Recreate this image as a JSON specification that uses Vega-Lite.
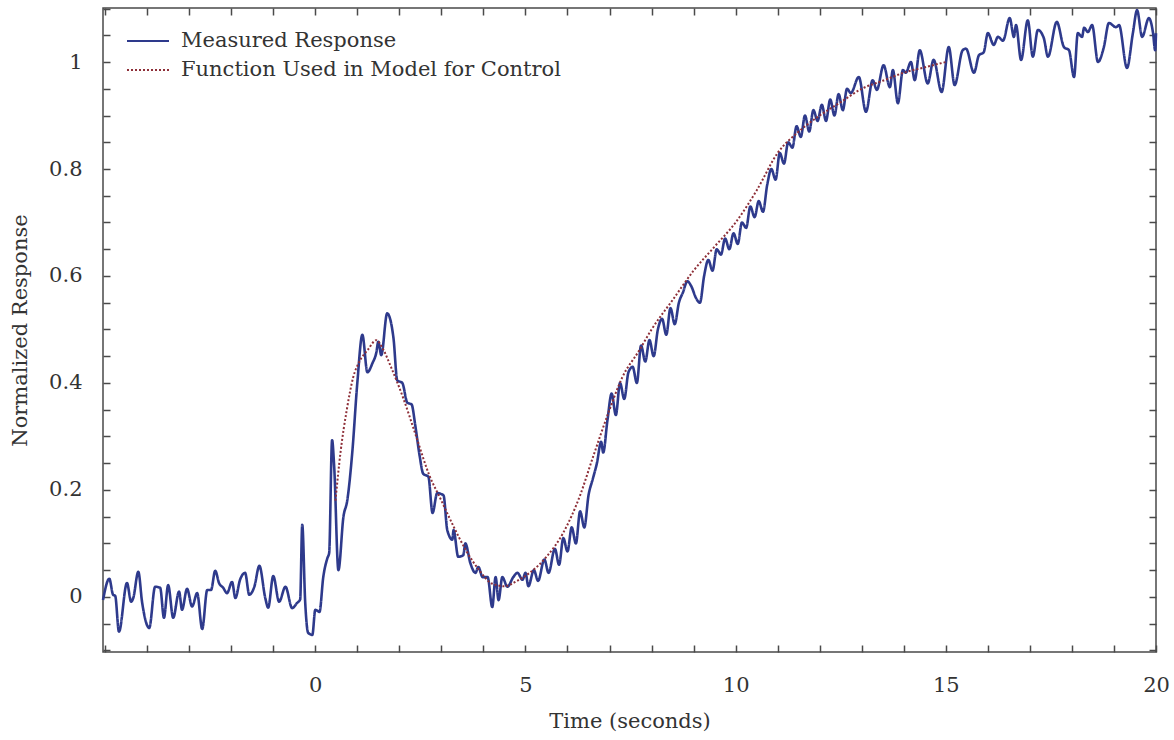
{
  "$schema": "https://vega.github.io/schema/vega-lite/v6.json",
  "width": 1053,
  "height": 644,
  "autosize": "none",
  "padding": {"left": 103, "top": 8, "right": 18, "bottom": 88},
  "background": "white",
  "config": {
    "font": "DejaVu Serif",
    "view": {"stroke": "#4a4a4a", "strokeWidth": 1.5},
    "axis": {
      "grid": false,
      "domain": false,
      "offset": -7,
      "tickColor": "#4a4a4a",
      "tickWidth": 1.5,
      "tickSize": 7,
      "labelFont": "DejaVu Serif",
      "labelFontSize": 21,
      "labelColor": "#333333",
      "titleFont": "DejaVu Serif",
      "titleFontSize": 21,
      "titleFontWeight": "normal",
      "titleColor": "#333333"
    }
  },
  "datasets": {
    "measured": [
      {"t": -5.05, "v": -0.006, "series": "Measured Response"},
      {"t": -4.90, "v": 0.034, "series": "Measured Response"},
      {"t": -4.81, "v": 0.004, "series": "Measured Response"},
      {"t": -4.76, "v": 0.002, "series": "Measured Response"},
      {"t": -4.67, "v": -0.065, "series": "Measured Response"},
      {"t": -4.48, "v": 0.026, "series": "Measured Response"},
      {"t": -4.38, "v": -0.009, "series": "Measured Response"},
      {"t": -4.33, "v": -0.002, "series": "Measured Response"},
      {"t": -4.21, "v": 0.047, "series": "Measured Response"},
      {"t": -4.12, "v": -0.01, "series": "Measured Response"},
      {"t": -3.95, "v": -0.058, "series": "Measured Response"},
      {"t": -3.81, "v": 0.019, "series": "Measured Response"},
      {"t": -3.69, "v": 0.017, "series": "Measured Response"},
      {"t": -3.60, "v": -0.039, "series": "Measured Response"},
      {"t": -3.50, "v": 0.022, "series": "Measured Response"},
      {"t": -3.38, "v": -0.039, "series": "Measured Response"},
      {"t": -3.24, "v": 0.01, "series": "Measured Response"},
      {"t": -3.17, "v": -0.024, "series": "Measured Response"},
      {"t": -3.05, "v": 0.015, "series": "Measured Response"},
      {"t": -2.93, "v": -0.018, "series": "Measured Response"},
      {"t": -2.81, "v": 0.007, "series": "Measured Response"},
      {"t": -2.69, "v": -0.06, "series": "Measured Response"},
      {"t": -2.57, "v": 0.013, "series": "Measured Response"},
      {"t": -2.48, "v": 0.013, "series": "Measured Response"},
      {"t": -2.38, "v": 0.049, "series": "Measured Response"},
      {"t": -2.29, "v": 0.026, "series": "Measured Response"},
      {"t": -2.19, "v": 0.017, "series": "Measured Response"},
      {"t": -2.10, "v": 0.007, "series": "Measured Response"},
      {"t": -1.98, "v": 0.028, "series": "Measured Response"},
      {"t": -1.90, "v": -0.002, "series": "Measured Response"},
      {"t": -1.79, "v": 0.032, "series": "Measured Response"},
      {"t": -1.67, "v": 0.045, "series": "Measured Response"},
      {"t": -1.57, "v": 0.004, "series": "Measured Response"},
      {"t": -1.45, "v": 0.019, "series": "Measured Response"},
      {"t": -1.33, "v": 0.058, "series": "Measured Response"},
      {"t": -1.19, "v": -0.002, "series": "Measured Response"},
      {"t": -1.12, "v": -0.02, "series": "Measured Response"},
      {"t": -1.00, "v": 0.039, "series": "Measured Response"},
      {"t": -0.86, "v": -0.009, "series": "Measured Response"},
      {"t": -0.71, "v": 0.019, "series": "Measured Response"},
      {"t": -0.55, "v": -0.021, "series": "Measured Response"},
      {"t": -0.43, "v": -0.011, "series": "Measured Response"},
      {"t": -0.36, "v": -0.005, "series": "Measured Response"},
      {"t": -0.31, "v": 0.135, "series": "Measured Response"},
      {"t": -0.24, "v": -0.01, "series": "Measured Response"},
      {"t": -0.17, "v": -0.067, "series": "Measured Response"},
      {"t": -0.07, "v": -0.071, "series": "Measured Response"},
      {"t": 0.0, "v": -0.024, "series": "Measured Response"},
      {"t": 0.10, "v": -0.028, "series": "Measured Response"},
      {"t": 0.19, "v": 0.037, "series": "Measured Response"},
      {"t": 0.29, "v": 0.073, "series": "Measured Response"},
      {"t": 0.33, "v": 0.082, "series": "Measured Response"},
      {"t": 0.40, "v": 0.293, "series": "Measured Response"},
      {"t": 0.45, "v": 0.243, "series": "Measured Response"},
      {"t": 0.55, "v": 0.05, "series": "Measured Response"},
      {"t": 0.67, "v": 0.15, "series": "Measured Response"},
      {"t": 0.76, "v": 0.18, "series": "Measured Response"},
      {"t": 0.88, "v": 0.27, "series": "Measured Response"},
      {"t": 1.0, "v": 0.40, "series": "Measured Response"},
      {"t": 1.12, "v": 0.49, "series": "Measured Response"},
      {"t": 1.24, "v": 0.42, "series": "Measured Response"},
      {"t": 1.36, "v": 0.437, "series": "Measured Response"},
      {"t": 1.45, "v": 0.456, "series": "Measured Response"},
      {"t": 1.50, "v": 0.477, "series": "Measured Response"},
      {"t": 1.57, "v": 0.452, "series": "Measured Response"},
      {"t": 1.71, "v": 0.53, "series": "Measured Response"},
      {"t": 1.86, "v": 0.484, "series": "Measured Response"},
      {"t": 1.95, "v": 0.405, "series": "Measured Response"},
      {"t": 2.07, "v": 0.40, "series": "Measured Response"},
      {"t": 2.19, "v": 0.363, "series": "Measured Response"},
      {"t": 2.29, "v": 0.36, "series": "Measured Response"},
      {"t": 2.38, "v": 0.32, "series": "Measured Response"},
      {"t": 2.48, "v": 0.265, "series": "Measured Response"},
      {"t": 2.57, "v": 0.23, "series": "Measured Response"},
      {"t": 2.69, "v": 0.225, "series": "Measured Response"},
      {"t": 2.79, "v": 0.157, "series": "Measured Response"},
      {"t": 2.90, "v": 0.194, "series": "Measured Response"},
      {"t": 3.05, "v": 0.19, "series": "Measured Response"},
      {"t": 3.14, "v": 0.125, "series": "Measured Response"},
      {"t": 3.26, "v": 0.107, "series": "Measured Response"},
      {"t": 3.29, "v": 0.125, "series": "Measured Response"},
      {"t": 3.40, "v": 0.075, "series": "Measured Response"},
      {"t": 3.52, "v": 0.078, "series": "Measured Response"},
      {"t": 3.57, "v": 0.10, "series": "Measured Response"},
      {"t": 3.69, "v": 0.063, "series": "Measured Response"},
      {"t": 3.81, "v": 0.045, "series": "Measured Response"},
      {"t": 3.88, "v": 0.056, "series": "Measured Response"},
      {"t": 3.98, "v": 0.037, "series": "Measured Response"},
      {"t": 4.10, "v": 0.037, "series": "Measured Response"},
      {"t": 4.21, "v": -0.019, "series": "Measured Response"},
      {"t": 4.29, "v": 0.037, "series": "Measured Response"},
      {"t": 4.36, "v": -0.006, "series": "Measured Response"},
      {"t": 4.45, "v": 0.037, "series": "Measured Response"},
      {"t": 4.57, "v": 0.019, "series": "Measured Response"},
      {"t": 4.71, "v": 0.037, "series": "Measured Response"},
      {"t": 4.81, "v": 0.045, "series": "Measured Response"},
      {"t": 4.93, "v": 0.032, "series": "Measured Response"},
      {"t": 5.0, "v": 0.045, "series": "Measured Response"},
      {"t": 5.07, "v": 0.02, "series": "Measured Response"},
      {"t": 5.2, "v": 0.05, "series": "Measured Response"},
      {"t": 5.3, "v": 0.03, "series": "Measured Response"},
      {"t": 5.45, "v": 0.07, "series": "Measured Response"},
      {"t": 5.55, "v": 0.045, "series": "Measured Response"},
      {"t": 5.7, "v": 0.09, "series": "Measured Response"},
      {"t": 5.8, "v": 0.06, "series": "Measured Response"},
      {"t": 5.9, "v": 0.11, "series": "Measured Response"},
      {"t": 6.0, "v": 0.085, "series": "Measured Response"},
      {"t": 6.1, "v": 0.13, "series": "Measured Response"},
      {"t": 6.2, "v": 0.10, "series": "Measured Response"},
      {"t": 6.3, "v": 0.16, "series": "Measured Response"},
      {"t": 6.4, "v": 0.13, "series": "Measured Response"},
      {"t": 6.5, "v": 0.19, "series": "Measured Response"},
      {"t": 6.6, "v": 0.22, "series": "Measured Response"},
      {"t": 6.7, "v": 0.25, "series": "Measured Response"},
      {"t": 6.8, "v": 0.29, "series": "Measured Response"},
      {"t": 6.85, "v": 0.27, "series": "Measured Response"},
      {"t": 6.95, "v": 0.33, "series": "Measured Response"},
      {"t": 7.05, "v": 0.38, "series": "Measured Response"},
      {"t": 7.15, "v": 0.34, "series": "Measured Response"},
      {"t": 7.25, "v": 0.40, "series": "Measured Response"},
      {"t": 7.35, "v": 0.37, "series": "Measured Response"},
      {"t": 7.45, "v": 0.42, "series": "Measured Response"},
      {"t": 7.55, "v": 0.43, "series": "Measured Response"},
      {"t": 7.65, "v": 0.40, "series": "Measured Response"},
      {"t": 7.75, "v": 0.47, "series": "Measured Response"},
      {"t": 7.85, "v": 0.44, "series": "Measured Response"},
      {"t": 7.95, "v": 0.48, "series": "Measured Response"},
      {"t": 8.05, "v": 0.45, "series": "Measured Response"},
      {"t": 8.15, "v": 0.50, "series": "Measured Response"},
      {"t": 8.25, "v": 0.52, "series": "Measured Response"},
      {"t": 8.35, "v": 0.49, "series": "Measured Response"},
      {"t": 8.45, "v": 0.54, "series": "Measured Response"},
      {"t": 8.55, "v": 0.51, "series": "Measured Response"},
      {"t": 8.65, "v": 0.55, "series": "Measured Response"},
      {"t": 8.75, "v": 0.57, "series": "Measured Response"},
      {"t": 8.85, "v": 0.59, "series": "Measured Response"},
      {"t": 8.95, "v": 0.58, "series": "Measured Response"},
      {"t": 9.05, "v": 0.56, "series": "Measured Response"},
      {"t": 9.15, "v": 0.55, "series": "Measured Response"},
      {"t": 9.25, "v": 0.60, "series": "Measured Response"},
      {"t": 9.35, "v": 0.63, "series": "Measured Response"},
      {"t": 9.45, "v": 0.61, "series": "Measured Response"},
      {"t": 9.55, "v": 0.65, "series": "Measured Response"},
      {"t": 9.65, "v": 0.64, "series": "Measured Response"},
      {"t": 9.75, "v": 0.67, "series": "Measured Response"},
      {"t": 9.85, "v": 0.65, "series": "Measured Response"},
      {"t": 9.95, "v": 0.68, "series": "Measured Response"},
      {"t": 10.05, "v": 0.66, "series": "Measured Response"},
      {"t": 10.15, "v": 0.70, "series": "Measured Response"},
      {"t": 10.25, "v": 0.69, "series": "Measured Response"},
      {"t": 10.35, "v": 0.73, "series": "Measured Response"},
      {"t": 10.45, "v": 0.71, "series": "Measured Response"},
      {"t": 10.55, "v": 0.74, "series": "Measured Response"},
      {"t": 10.65, "v": 0.72, "series": "Measured Response"},
      {"t": 10.75, "v": 0.77, "series": "Measured Response"},
      {"t": 10.85, "v": 0.80, "series": "Measured Response"},
      {"t": 10.95, "v": 0.78, "series": "Measured Response"},
      {"t": 11.05, "v": 0.83, "series": "Measured Response"},
      {"t": 11.15, "v": 0.81, "series": "Measured Response"},
      {"t": 11.25, "v": 0.85, "series": "Measured Response"},
      {"t": 11.35, "v": 0.84, "series": "Measured Response"},
      {"t": 11.45, "v": 0.88, "series": "Measured Response"},
      {"t": 11.55, "v": 0.86, "series": "Measured Response"},
      {"t": 11.65, "v": 0.90, "series": "Measured Response"},
      {"t": 11.75, "v": 0.87, "series": "Measured Response"},
      {"t": 11.85, "v": 0.91, "series": "Measured Response"},
      {"t": 11.95, "v": 0.89, "series": "Measured Response"},
      {"t": 12.05, "v": 0.92, "series": "Measured Response"},
      {"t": 12.15, "v": 0.89, "series": "Measured Response"},
      {"t": 12.25, "v": 0.93, "series": "Measured Response"},
      {"t": 12.35, "v": 0.90, "series": "Measured Response"},
      {"t": 12.45, "v": 0.94, "series": "Measured Response"},
      {"t": 12.55, "v": 0.91, "series": "Measured Response"},
      {"t": 12.65, "v": 0.95, "series": "Measured Response"},
      {"t": 12.74, "v": 0.942, "series": "Measured Response"},
      {"t": 12.93, "v": 0.972, "series": "Measured Response"},
      {"t": 13.10, "v": 0.907, "series": "Measured Response"},
      {"t": 13.26, "v": 0.966, "series": "Measured Response"},
      {"t": 13.36, "v": 0.948, "series": "Measured Response"},
      {"t": 13.52, "v": 0.994, "series": "Measured Response"},
      {"t": 13.67, "v": 0.953, "series": "Measured Response"},
      {"t": 13.74, "v": 0.985, "series": "Measured Response"},
      {"t": 13.86, "v": 0.923, "series": "Measured Response"},
      {"t": 13.98, "v": 0.985, "series": "Measured Response"},
      {"t": 14.05, "v": 0.98, "series": "Measured Response"},
      {"t": 14.17, "v": 1.0, "series": "Measured Response"},
      {"t": 14.26, "v": 0.966, "series": "Measured Response"},
      {"t": 14.38, "v": 1.022, "series": "Measured Response"},
      {"t": 14.57, "v": 0.96, "series": "Measured Response"},
      {"t": 14.71, "v": 1.004, "series": "Measured Response"},
      {"t": 14.90, "v": 0.944, "series": "Measured Response"},
      {"t": 15.07, "v": 1.028, "series": "Measured Response"},
      {"t": 15.21, "v": 0.957, "series": "Measured Response"},
      {"t": 15.40, "v": 1.022, "series": "Measured Response"},
      {"t": 15.48, "v": 1.025, "series": "Measured Response"},
      {"t": 15.67, "v": 0.98, "series": "Measured Response"},
      {"t": 15.79, "v": 1.013, "series": "Measured Response"},
      {"t": 15.90, "v": 1.018, "series": "Measured Response"},
      {"t": 16.0, "v": 1.054, "series": "Measured Response"},
      {"t": 16.14, "v": 1.032, "series": "Measured Response"},
      {"t": 16.24, "v": 1.047, "series": "Measured Response"},
      {"t": 16.36, "v": 1.04, "series": "Measured Response"},
      {"t": 16.52, "v": 1.082, "series": "Measured Response"},
      {"t": 16.62, "v": 1.047, "series": "Measured Response"},
      {"t": 16.67, "v": 1.069, "series": "Measured Response"},
      {"t": 16.79, "v": 1.004, "series": "Measured Response"},
      {"t": 16.95, "v": 1.078, "series": "Measured Response"},
      {"t": 17.07, "v": 1.01, "series": "Measured Response"},
      {"t": 17.19, "v": 1.06, "series": "Measured Response"},
      {"t": 17.33, "v": 1.045, "series": "Measured Response"},
      {"t": 17.43, "v": 1.01, "series": "Measured Response"},
      {"t": 17.64, "v": 1.075, "series": "Measured Response"},
      {"t": 17.81, "v": 1.028, "series": "Measured Response"},
      {"t": 17.93, "v": 1.022, "series": "Measured Response"},
      {"t": 18.05, "v": 0.972, "series": "Measured Response"},
      {"t": 18.14, "v": 1.054, "series": "Measured Response"},
      {"t": 18.24, "v": 1.047, "series": "Measured Response"},
      {"t": 18.29, "v": 1.064, "series": "Measured Response"},
      {"t": 18.38, "v": 1.056, "series": "Measured Response"},
      {"t": 18.48, "v": 1.069, "series": "Measured Response"},
      {"t": 18.62, "v": 1.0, "series": "Measured Response"},
      {"t": 18.76, "v": 1.028, "series": "Measured Response"},
      {"t": 18.88, "v": 1.073, "series": "Measured Response"},
      {"t": 19.05, "v": 1.065, "series": "Measured Response"},
      {"t": 19.12, "v": 1.069, "series": "Measured Response"},
      {"t": 19.31, "v": 0.989, "series": "Measured Response"},
      {"t": 19.45, "v": 1.054, "series": "Measured Response"},
      {"t": 19.55, "v": 1.097, "series": "Measured Response"},
      {"t": 19.67, "v": 1.047, "series": "Measured Response"},
      {"t": 19.83, "v": 1.082, "series": "Measured Response"},
      {"t": 19.93, "v": 1.054, "series": "Measured Response"},
      {"t": 19.98, "v": 1.022, "series": "Measured Response"},
      {"t": 20.0, "v": 1.054, "series": "Measured Response"}
    ],
    "model": [
      {"t": 0.48, "v": 0.18, "series": "Function Used in Model for Control"},
      {"t": 0.6, "v": 0.27, "series": "Function Used in Model for Control"},
      {"t": 0.75, "v": 0.35, "series": "Function Used in Model for Control"},
      {"t": 0.9, "v": 0.41, "series": "Function Used in Model for Control"},
      {"t": 1.05, "v": 0.44, "series": "Function Used in Model for Control"},
      {"t": 1.25, "v": 0.462, "series": "Function Used in Model for Control"},
      {"t": 1.45, "v": 0.48, "series": "Function Used in Model for Control"},
      {"t": 1.6, "v": 0.465, "series": "Function Used in Model for Control"},
      {"t": 1.8, "v": 0.43, "series": "Function Used in Model for Control"},
      {"t": 2.1, "v": 0.37, "series": "Function Used in Model for Control"},
      {"t": 2.4, "v": 0.30, "series": "Function Used in Model for Control"},
      {"t": 2.7, "v": 0.23, "series": "Function Used in Model for Control"},
      {"t": 3.0, "v": 0.18, "series": "Function Used in Model for Control"},
      {"t": 3.3, "v": 0.13, "series": "Function Used in Model for Control"},
      {"t": 3.6, "v": 0.085, "series": "Function Used in Model for Control"},
      {"t": 3.9, "v": 0.05, "series": "Function Used in Model for Control"},
      {"t": 4.2, "v": 0.025, "series": "Function Used in Model for Control"},
      {"t": 4.5, "v": 0.02, "series": "Function Used in Model for Control"},
      {"t": 4.8, "v": 0.03, "series": "Function Used in Model for Control"},
      {"t": 5.1, "v": 0.045, "series": "Function Used in Model for Control"},
      {"t": 5.5, "v": 0.075, "series": "Function Used in Model for Control"},
      {"t": 5.9, "v": 0.12, "series": "Function Used in Model for Control"},
      {"t": 6.3, "v": 0.19, "series": "Function Used in Model for Control"},
      {"t": 6.6, "v": 0.26, "series": "Function Used in Model for Control"},
      {"t": 7.0, "v": 0.35, "series": "Function Used in Model for Control"},
      {"t": 7.3, "v": 0.41, "series": "Function Used in Model for Control"},
      {"t": 7.7, "v": 0.46, "series": "Function Used in Model for Control"},
      {"t": 8.0, "v": 0.50, "series": "Function Used in Model for Control"},
      {"t": 8.5, "v": 0.555, "series": "Function Used in Model for Control"},
      {"t": 9.0, "v": 0.61, "series": "Function Used in Model for Control"},
      {"t": 9.5, "v": 0.655, "series": "Function Used in Model for Control"},
      {"t": 10.0, "v": 0.70, "series": "Function Used in Model for Control"},
      {"t": 10.5, "v": 0.76, "series": "Function Used in Model for Control"},
      {"t": 11.0, "v": 0.83, "series": "Function Used in Model for Control"},
      {"t": 11.5, "v": 0.87, "series": "Function Used in Model for Control"},
      {"t": 12.0, "v": 0.90, "series": "Function Used in Model for Control"},
      {"t": 12.5, "v": 0.925, "series": "Function Used in Model for Control"},
      {"t": 13.0, "v": 0.95, "series": "Function Used in Model for Control"},
      {"t": 13.5, "v": 0.965, "series": "Function Used in Model for Control"},
      {"t": 14.0, "v": 0.98, "series": "Function Used in Model for Control"},
      {"t": 14.5, "v": 0.99, "series": "Function Used in Model for Control"},
      {"t": 15.0, "v": 1.0, "series": "Function Used in Model for Control"}
    ]
  },
  "layer": [
    {
      "data": {"name": "measured"},
      "mark": {"type": "line", "strokeWidth": 2.6, "interpolate": "monotone"},
      "encoding": {
        "x": {
          "field": "t", "type": "quantitative",
          "scale": {"domain": [-5.05, 20], "nice": false, "zero": false},
          "axis": {
            "orient": "bottom",
            "title": "Time (seconds)",
            "values": [-5, -4, -3, -2, -1, 0, 1, 2, 3, 4, 5, 6, 7, 8, 9, 10, 11, 12, 13, 14, 15, 16, 17, 18, 19, 20],
            "labelExpr": "datum.value % 5 === 0 && datum.value >= 0 ? datum.label : ''",
            "labelPadding": 22,
            "titlePadding": 15,
            "labelFlush": false
          }
        },
        "y": {
          "field": "v", "type": "quantitative",
          "scale": {"domain": [-0.103, 1.101], "nice": false, "zero": false},
          "axis": {
            "orient": "left",
            "title": "Normalized Response",
            "values": [-0.1, -0.05, 0, 0.05, 0.1, 0.15, 0.2, 0.25, 0.3, 0.35, 0.4, 0.45, 0.5, 0.55, 0.6, 0.65, 0.7, 0.75, 0.8, 0.85, 0.9, 0.95, 1, 1.05, 1.1],
            "labelExpr": "abs(datum.value * 5 - round(datum.value * 5)) < 0.0001 ? format(datum.value, '~g') : ''",
            "labelPadding": 21,
            "titlePadding": 18,
            "labelFlush": false
          }
        },
        "color": {
          "field": "series", "type": "nominal",
          "scale": {"domain": ["Measured Response", "Function Used in Model for Control"], "range": ["#2e3a8c", "#8e2f38"]},
          "legend": {
            "orient": "none",
            "legendX": 29,
            "legendY": 17,
            "title": null,
            "symbolType": "M-1.4,0H1.4",
            "symbolSize": 900,
            "symbolStrokeWidth": 2,
            "symbolFillColor": "transparent",
            "labelFont": "DejaVu Serif",
            "labelFontSize": 21,
            "labelColor": "#333333",
            "labelOffset": 17,
            "labelLimit": 0,
            "rowPadding": 3,
            "padding": 0
          }
        },
        "strokeDash": {
          "field": "series", "type": "nominal",
          "scale": {"domain": ["Measured Response", "Function Used in Model for Control"], "range": [[1, 0], [2, 2]]},
          "legend": null
        }
      }
    },
    {
      "data": {"name": "model"},
      "mark": {"type": "line", "strokeWidth": 2, "interpolate": "monotone"},
      "encoding": {
        "x": {
          "field": "t", "type": "quantitative",
          "axis": {
            "orient": "top",
            "title": null,
            "labels": false,
            "values": [-5, -4, -3, -2, -1, 0, 1, 2, 3, 4, 5, 6, 7, 8, 9, 10, 11, 12, 13, 14, 15, 16, 17, 18, 19, 20]
          }
        },
        "y": {
          "field": "v", "type": "quantitative",
          "axis": {
            "orient": "right",
            "title": null,
            "labels": false,
            "values": [-0.1, -0.05, 0, 0.05, 0.1, 0.15, 0.2, 0.25, 0.3, 0.35, 0.4, 0.45, 0.5, 0.55, 0.6, 0.65, 0.7, 0.75, 0.8, 0.85, 0.9, 0.95, 1, 1.05, 1.1]
          }
        },
        "color": {"field": "series", "type": "nominal"},
        "strokeDash": {"field": "series", "type": "nominal"}
      }
    }
  ]
}
